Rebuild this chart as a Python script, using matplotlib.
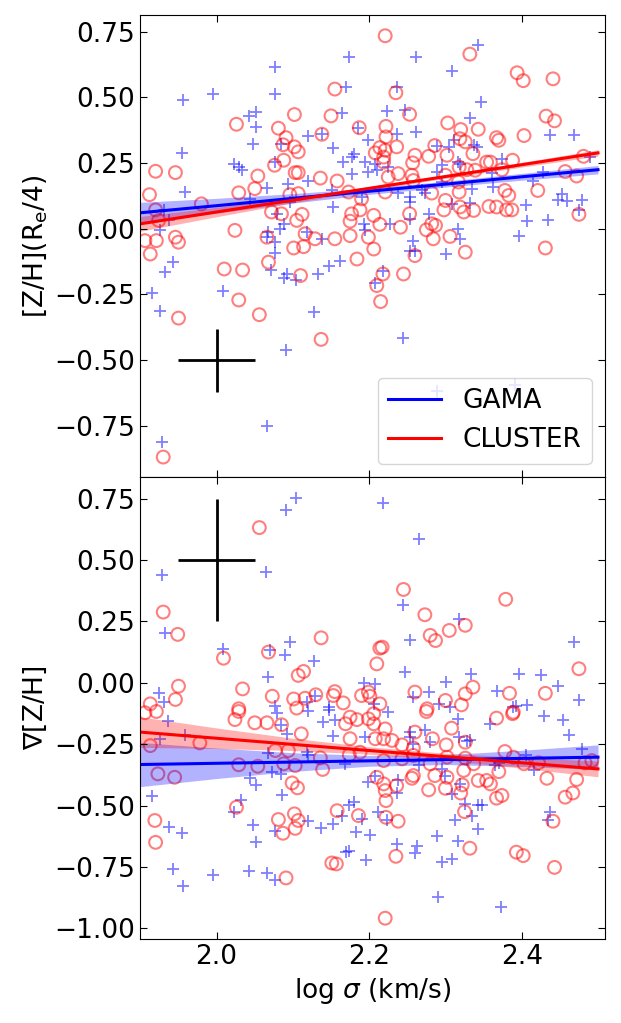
import matplotlib.pyplot as plt
import numpy as np

plt.rcParams['font.size'] = 19
plt.rcParams['xtick.direction'] = 'in'
plt.rcParams['ytick.direction'] = 'in'
plt.rcParams['xtick.top'] = True
plt.rcParams['ytick.right'] = True
plt.rcParams['xtick.major.size'] = 5
plt.rcParams['ytick.major.size'] = 5

# верхняя панель: [Z/H](Re/4)
gama_top = [(2.173, 0.655), (2.077, 0.617), (2.169, 0.538), (2.076, 0.515), (1.995, 0.513), (1.956, 0.492),
            (2.051, 0.445), (2.042, 0.429), (2.164, 0.439), (2.051, 0.388), (2.185, 0.382), (2.120, 0.352),
            (2.138, 0.362), (2.048, 0.324), (2.085, 0.324), (2.153, 0.309), (2.199, 0.337), (1.954, 0.289),
            (2.180, 0.286), (2.177, 0.273), (2.077, 0.254), (2.166, 0.254), (2.195, 0.254), (2.023, 0.245),
            (2.029, 0.235), (2.033, 0.223), (2.199, 0.216), (2.177, 0.210), (2.120, 0.182), (2.093, 0.172),
            (2.066, 0.156), (1.958, 0.140), (2.151, 0.146), (2.044, 0.114), (2.096, 0.102), (2.190, 0.121),
            (2.153, 0.083), (1.931, 0.070), (1.937, 0.032), (2.079, 0.057), (2.088, 0.019), (2.083, 0.000),
            (2.193, 0.019), (1.926, -0.006), (2.067, -0.013), (2.066, -0.032), (2.118, -0.013), (2.138, -0.038),
            (2.195, -0.006), (2.077, -0.051),
            (1.943, -0.127), (1.932, -0.166), (1.915, -0.244), (1.926, -0.314), (2.009, -0.238), (2.077, -0.093),
            (2.071, -0.157), (2.092, -0.172), (2.088, -0.187), (2.104, -0.195), (2.133, -0.172), (2.147, -0.140),
            (2.162, -0.124), (2.128, -0.318), (2.091, -0.461), (2.066, -0.751), (1.928, -0.810),
            (2.343, 0.700), (2.262, 0.653), (2.308, 0.602), (2.237, 0.541), (2.347, 0.483), (2.223, 0.449),
            (2.247, 0.454), (2.332, 0.420), (2.236, 0.360), (2.262, 0.369), (2.437, 0.356), (2.468, 0.356),
            (2.289, 0.314), (2.305, 0.312), (2.311, 0.337), (2.337, 0.318), (2.341, 0.312), (2.374, 0.267),
            (2.208, 0.248), (2.295, 0.244), (2.317, 0.254), (2.319, 0.245), (2.210, 0.225), (2.225, 0.235),
            (2.289, 0.216), (2.295, 0.178), (2.361, 0.214), (2.428, 0.216), (2.490, 0.273), (2.415, 0.182),
            (2.363, 0.159), (2.238, 0.136), (2.269, 0.146), (2.254, 0.121), (2.273, 0.136), (2.335, 0.153),
            (2.254, 0.102), (2.308, 0.095), (2.332, 0.098), (2.405, 0.089), (2.453, 0.134), (2.448, 0.108),
            (2.459, 0.106), (2.479, 0.111), (2.475, 0.070), (2.407, 0.029), (2.435, 0.032), (2.278, 0.055),
            (2.254, 0.038), (2.227, 0.019), (2.317, 0.000), (2.396, -0.026), (2.258, -0.045), (2.319, -0.038),
            (2.260, -0.083), (2.253, -0.085), (2.301, -0.096), (2.218, -0.159), (2.208, -0.208), (2.245, -0.417),
            (2.289, -0.617), (2.391, -0.594)]

cluster_top = [(2.155, 0.532), (2.102, 0.435), (2.150, 0.430), (2.026, 0.398), (2.081, 0.383), (2.138, 0.360),
               (2.187, 0.385), (2.091, 0.347), (2.087, 0.320), (2.102, 0.312), (2.107, 0.293), (2.088, 0.261),
               (2.076, 0.242), (1.920, 0.219), (1.946, 0.214), (2.103, 0.214), (2.107, 0.214), (2.054, 0.201),
               (2.136, 0.193), (2.158, 0.182), (2.050, 0.153), (2.029, 0.137), (2.096, 0.130), (2.107, 0.134),
               (2.173, 0.140), (1.912, 0.130), (1.980, 0.095), (2.190, 0.114), (1.920, 0.072), (1.924, 0.032),
               (2.072, 0.064), (2.085, 0.057), (2.112, 0.055), (2.105, 0.032), (2.177, 0.057), (2.175, 0.029),
               (2.188, 0.072), (2.024, -0.006), (2.066, -0.032), (2.116, -0.019), (2.129, -0.038), (2.155, -0.038),
               (2.175, -0.026), (2.199, -0.032), (1.906, -0.045), (1.921, -0.045), (1.946, -0.032), (1.950, -0.051),
               (1.913, -0.096), (2.010, -0.153), (2.034, -0.157), (2.068, -0.127), (2.101, -0.073), (2.114, -0.068),
               (2.184, -0.115), (2.110, -0.178), (2.029, -0.271), (1.950, -0.340), (2.056, -0.327), (2.137, -0.421),
               (1.930, -0.869),
               (2.221, 0.735), (2.332, 0.665), (2.235, 0.518), (2.394, 0.594), (2.402, 0.564), (2.441, 0.571),
               (2.253, 0.436), (2.432, 0.429), (2.443, 0.411), (2.303, 0.403), (2.222, 0.390), (2.320, 0.378),
               (2.343, 0.379), (2.222, 0.350), (2.236, 0.312), (2.319, 0.343), (2.326, 0.331), (2.367, 0.347),
               (2.370, 0.337), (2.403, 0.355), (2.286, 0.317), (2.214, 0.309), (2.221, 0.299), (2.208, 0.289),
               (2.302, 0.280), (2.336, 0.286), (2.260, 0.280), (2.278, 0.276), (2.219, 0.273), (2.219, 0.254),
               (2.257, 0.251), (2.354, 0.254), (2.359, 0.254), (2.374, 0.225), (2.388, 0.261), (2.481, 0.276),
               (2.318, 0.235), (2.328, 0.225), (2.339, 0.223), (2.238, 0.210), (2.256, 0.204), (2.300, 0.204),
               (2.225, 0.197), (2.457, 0.218), (2.472, 0.201), (2.258, 0.184), (2.317, 0.178), (2.221, 0.140),
               (2.282, 0.136), (2.318, 0.140), (2.378, 0.146), (2.383, 0.127), (2.421, 0.146), (2.300, 0.108),
               (2.298, 0.072), (2.319, 0.083), (2.324, 0.064), (2.337, 0.070), (2.357, 0.085), (2.367, 0.083),
               (2.380, 0.072), (2.387, 0.072), (2.475, 0.055), (2.253, 0.057), (2.214, 0.017), (2.206, 0.051),
               (2.241, 0.006), (2.275, -0.004), (2.287, 0.013), (2.282, 0.019), (2.306, -0.029), (2.284, -0.038),
               (2.431, -0.073),
               (2.206, -0.077), (2.260, -0.102), (2.326, -0.089), (2.218, -0.172), (2.245, -0.172), (2.210, -0.216),
               (2.215, -0.277)]

# нижняя панель: градиент
gama_bot = [(2.104, 0.753), (2.091, 0.705), (1.928, 0.437), (2.065, 0.451), (1.932, 0.202), (2.009, 0.136),
            (2.070, 0.132), (2.089, 0.115), (2.096, 0.166), (2.128, 0.087), (2.067, 0.023), (1.924, -0.041),
            (1.931, -0.079), (2.193, 0.000), (2.076, -0.093), (2.118, -0.079), (2.129, -0.052), (2.147, -0.100),
            (2.218, 0.732), (2.265, 0.584), (2.245, 0.318), (2.318, 0.261), (2.254, 0.176), (2.469, 0.166),
            (2.247, 0.043), (2.208, -0.004), (2.301, 0.003), (2.333, 0.036), (2.396, 0.034), (2.425, 0.030),
            (2.447, -0.014), (2.279, -0.038), (2.258, -0.059), (2.367, -0.032), (2.475, -0.072), (2.206, -0.086),
            (2.291, -0.086), (2.306, -0.100), (2.393, -0.093), (2.407, -0.090),
            (1.936, -0.154), (1.958, -0.212), (1.926, -0.228), (2.079, -0.122), (2.120, -0.113), (2.147, -0.109),
            (2.140, -0.160), (2.155, -0.150), (2.085, -0.174), (2.092, -0.208), (2.152, -0.218), (2.195, -0.222),
            (2.067, -0.286), (2.118, -0.280), (2.120, -0.294), (2.168, -0.330), (2.073, -0.364), (2.085, -0.371),
            (2.044, -0.389), (2.051, -0.416), (1.915, -0.462), (2.032, -0.476), (2.023, -0.525), (2.086, -0.457),
            (2.173, -0.497), (2.180, -0.487), (2.164, -0.541), (2.191, -0.555), (2.199, -0.405), (2.048, -0.579),
            (2.120, -0.565), (2.137, -0.593), (2.153, -0.575), (2.076, -0.602), (1.937, -0.589), (1.954, -0.612),
            (2.183, -0.609), (2.201, -0.620), (2.051, -0.650), (2.169, -0.690), (2.173, -0.684), (2.196, -0.720),
            (1.943, -0.758), (1.995, -0.783), (2.042, -0.765), (2.066, -0.776), (2.076, -0.803), (1.956, -0.829),
            (2.225, -0.120), (2.317, -0.147), (2.359, -0.167), (2.389, -0.099), (2.429, -0.136), (2.454, -0.150),
            (2.462, -0.212), (2.479, -0.269), (2.254, -0.201), (2.273, -0.194), (2.254, -0.222), (2.280, -0.242),
            (2.318, -0.222), (2.328, -0.239), (2.332, -0.235), (2.258, -0.249), (2.265, -0.337), (2.295, -0.351),
            (2.300, -0.378), (2.208, -0.378), (2.238, -0.398), (2.319, -0.412), (2.308, -0.453), (2.236, -0.449),
            (2.365, -0.334), (2.370, -0.326), (2.405, -0.296), (2.416, -0.357), (2.326, -0.493), (2.343, -0.497),
            (2.348, -0.497), (2.335, -0.544), (2.343, -0.595), (2.313, -0.559), (2.212, -0.527), (2.223, -0.561),
            (2.437, -0.527), (2.435, -0.561), (2.289, -0.625), (2.316, -0.643), (2.236, -0.656), (2.263, -0.663),
            (2.260, -0.694), (2.308, -0.718), (2.295, -0.731), (2.290, -0.874), (2.373, -0.912)]

cluster_bot = [(2.056, 0.632), (1.930, 0.288), (1.949, 0.197), (2.137, 0.183), (2.009, 0.100), (2.068, 0.125),
               (2.107, 0.030), (2.114, 0.046), (1.950, -0.014), (1.946, -0.068), (2.034, -0.025), (2.073, -0.055),
               (2.101, -0.066), (2.116, -0.063), (2.130, -0.049), (2.155, -0.036), (2.153, -0.052), (2.166, -0.082),
               (2.190, -0.052), (2.199, -0.038), (2.201, -0.055), (1.913, -0.086), (2.029, -0.106),
               (2.245, 0.380), (2.379, 0.340), (2.273, 0.277), (2.305, 0.213), (2.326, 0.234), (2.280, 0.193),
               (2.287, 0.172), (2.217, 0.145), (2.214, 0.141), (2.210, 0.077), (2.475, 0.057), (2.260, -0.038),
               (2.300, -0.072), (2.326, -0.045), (2.336, -0.018), (2.384, -0.043), (2.431, -0.043), (2.321, -0.090),
               (2.276, -0.106), (2.214, -0.086), (2.389, -0.120),
               (1.906, -0.122), (1.921, -0.117), (2.024, -0.150), (2.029, -0.117), (2.050, -0.163), (2.066, -0.163),
               (2.085, -0.171), (2.105, -0.103), (2.111, -0.208), (1.978, -0.245), (1.913, -0.256), (2.077, -0.276),
               (2.094, -0.276), (2.175, -0.140), (2.184, -0.150), (2.169, -0.167), (2.175, -0.228), (2.174, -0.294),
               (2.188, -0.283), (2.199, -0.147), (2.136, -0.306), (2.139, -0.353), (2.029, -0.334), (2.054, -0.340),
               (2.088, -0.330), (2.103, -0.337), (1.923, -0.371), (1.945, -0.385), (2.099, -0.408), (2.106, -0.428),
               (2.026, -0.507), (1.919, -0.561), (1.920, -0.650), (2.081, -0.557), (2.102, -0.534), (2.107, -0.561),
               (2.103, -0.593), (2.087, -0.613), (2.158, -0.521), (2.186, -0.541), (2.151, -0.734), (2.157, -0.738),
               (2.091, -0.795),
               (2.206, -0.126), (2.206, -0.167), (2.221, -0.188), (2.208, -0.228), (2.219, -0.228), (2.230, -0.235),
               (2.243, -0.253), (2.260, -0.201), (2.258, -0.266), (2.283, -0.228), (2.301, -0.253), (2.308, -0.185),
               (2.326, -0.242), (2.275, -0.117), (2.367, -0.144), (2.388, -0.126), (2.219, -0.317), (2.243, -0.310),
               (2.258, -0.296), (2.280, -0.330), (2.302, -0.303), (2.326, -0.307), (2.337, -0.330), (2.378, -0.280),
               (2.389, -0.303), (2.403, -0.330), (2.422, -0.326), (2.483, -0.326), (2.492, -0.317), (2.210, -0.385),
               (2.219, -0.412), (2.236, -0.419), (2.256, -0.389), (2.258, -0.378), (2.286, -0.378), (2.302, -0.385),
               (2.324, -0.357), (2.322, -0.416), (2.320, -0.449), (2.300, -0.430), (2.278, -0.436), (2.343, -0.398),
               (2.354, -0.398), (2.359, -0.412), (2.370, -0.362), (2.433, -0.389), (2.472, -0.394), (2.221, -0.439),
               (2.222, -0.480), (2.367, -0.470), (2.374, -0.459), (2.457, -0.466), (2.467, -0.449), (2.325, -0.525),
               (2.222, -0.548), (2.238, -0.564), (2.441, -0.564), (2.332, -0.674), (2.393, -0.690), (2.402, -0.704),
               (2.235, -0.707), (2.443, -0.752), (2.221, -0.959)]

# линии регрессии и полосы доверия
fit_x = [1.9, 2.0, 2.1, 2.2, 2.3, 2.4, 2.5]
gama_top_fit = [0.061, 0.088, 0.116, 0.143, 0.170, 0.198, 0.225]
gama_top_err = [0.040, 0.028, 0.018, 0.012, 0.011, 0.013, 0.016]
cluster_top_fit = [0.019, 0.064, 0.109, 0.154, 0.199, 0.244, 0.289]
cluster_top_err = [0.028, 0.018, 0.010, 0.007, 0.007, 0.009, 0.012]
gama_bot_fit = [-0.333, -0.328, -0.323, -0.318, -0.313, -0.308, -0.303]
gama_bot_err = [0.090, 0.062, 0.038, 0.022, 0.020, 0.033, 0.050]
cluster_bot_fit = [-0.201, -0.226, -0.251, -0.276, -0.301, -0.326, -0.351]
cluster_bot_err = [0.062, 0.042, 0.025, 0.015, 0.014, 0.022, 0.032]

# типичные ошибки
err_top = (2.0, -0.5, 0.05, 0.12)
err_bot = (2.0, 0.5, 0.05, 0.25)


def draw_panel(ax, gama, cluster, g_fit, g_err, c_fit, c_err, err):
    g = np.array(gama)
    c = np.array(cluster)
    ax.scatter(g[:, 0], g[:, 1], marker='+', s=75, color='blue', alpha=0.5, linewidths=1.3)
    ax.scatter(c[:, 0], c[:, 1], marker='o', s=85, facecolors='none', edgecolors='red',
               alpha=0.5, linewidths=1.5)
    fx = np.array(fit_x)
    g_fit, g_err = np.array(g_fit), np.array(g_err)
    c_fit, c_err = np.array(c_fit), np.array(c_err)
    ax.fill_between(fx, g_fit - g_err, g_fit + g_err, color='blue', alpha=0.3, lw=0)
    ax.fill_between(fx, c_fit - c_err, c_fit + c_err, color='red', alpha=0.3, lw=0)
    ax.plot(fx, g_fit, color='blue', lw=2.2, label='GAMA')
    ax.plot(fx, c_fit, color='red', lw=2.2, label='CLUSTER')
    ax.errorbar(err[0], err[1], xerr=err[2], yerr=err[3], color='black', lw=2)


fig, (ax1, ax2) = plt.subplots(2, 1, sharex=True, figsize=(6.21, 10.23), dpi=100)
fig.subplots_adjust(left=0.226, right=0.974, top=0.9856, bottom=0.0818, hspace=0)

draw_panel(ax1, gama_top, cluster_top, gama_top_fit, gama_top_err,
           cluster_top_fit, cluster_top_err, err_top)
draw_panel(ax2, gama_bot, cluster_bot, gama_bot_fit, gama_bot_err,
           cluster_bot_fit, cluster_bot_err, err_bot)

ax1.set_xlim(1.9, 2.509)
ax1.set_ylim(-0.945, 0.815)
ax2.set_ylim(-1.045, 0.838)
ax1.set_yticks([-0.75, -0.5, -0.25, 0, 0.25, 0.5, 0.75])
ax2.set_yticks([-1.0, -0.75, -0.5, -0.25, 0, 0.25, 0.5, 0.75])
ax2.set_xticks([2.0, 2.2, 2.4])

ax1.set_ylabel(r'[Z/H](R$_\mathrm{e}$/4)')
ax2.set_ylabel(r'$\nabla$[Z/H]')
ax2.set_xlabel(r'log $\sigma$ (km/s)')
ax1.legend(loc='lower right')

plt.savefig('out.png', dpi=100)
